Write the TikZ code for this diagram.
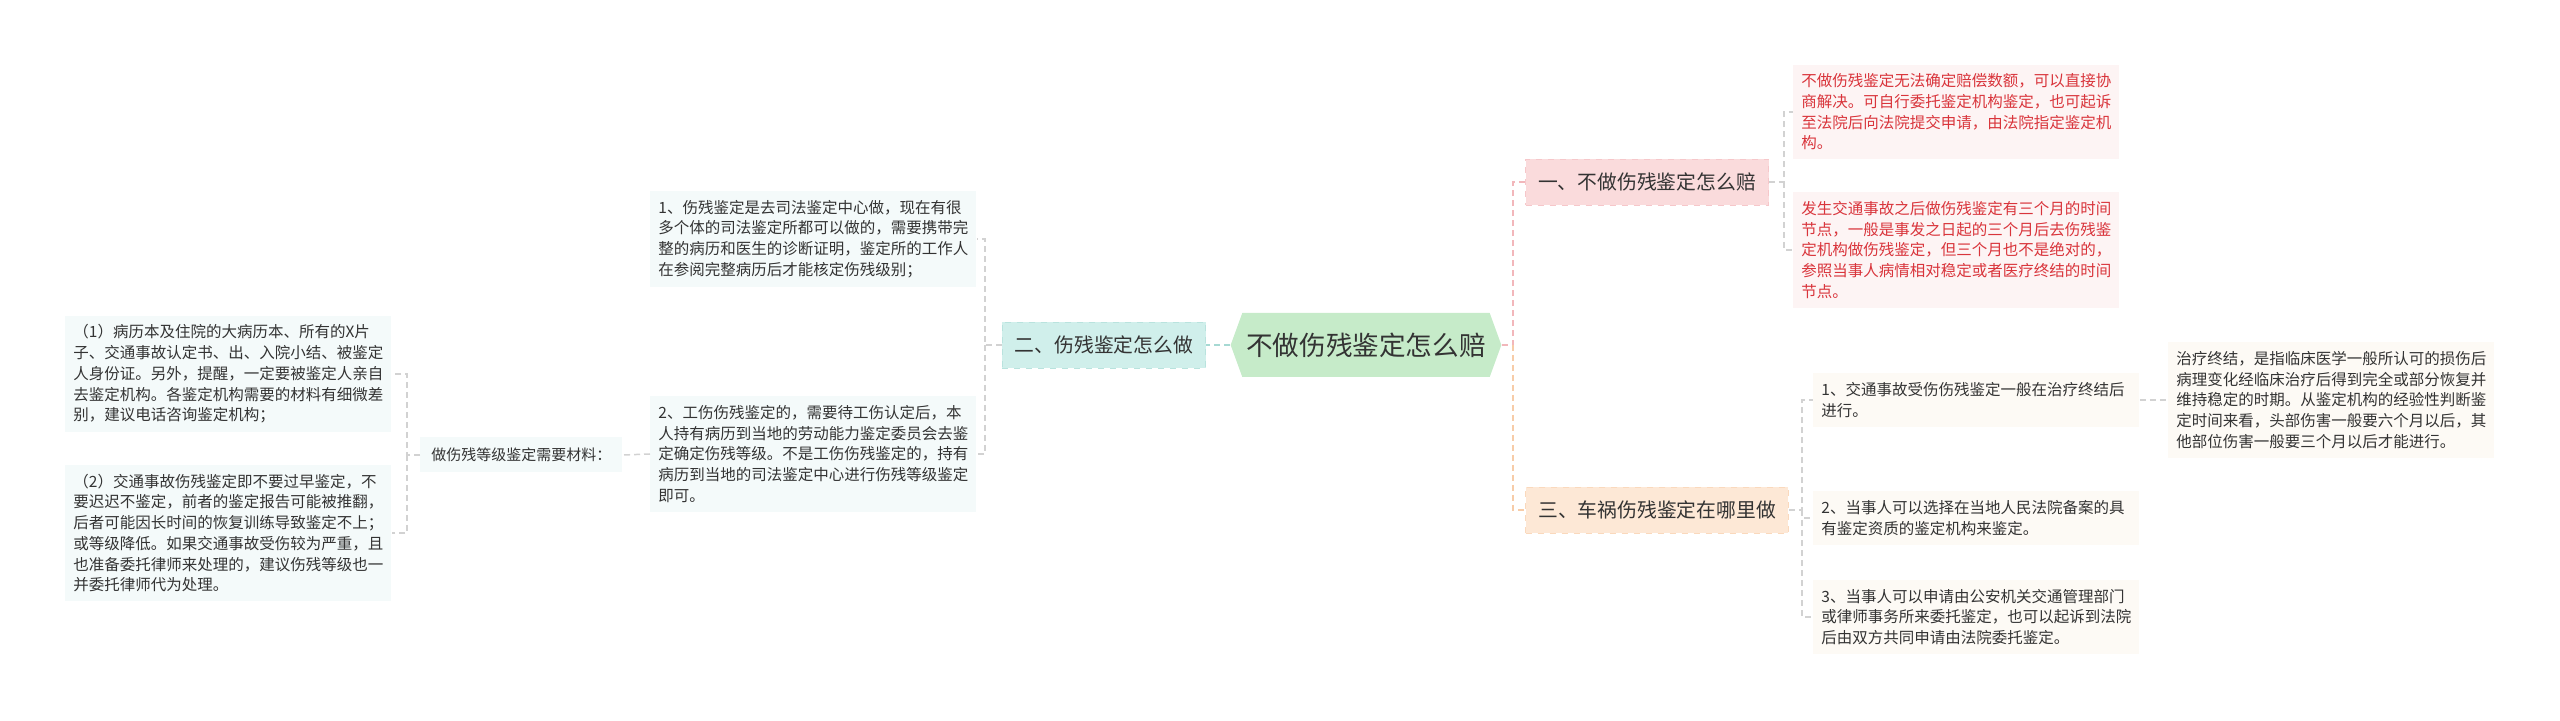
\documentclass[tikz,border=0pt]{standalone}
\usepackage{fontspec}
\newfontfamily\cjk{Noto Sans CJK SC}
\usetikzlibrary{shapes.symbols}

\definecolor{txtgray}{HTML}{333333}
\definecolor{txtred}{HTML}{D9343B}
\definecolor{rootfill}{HTML}{C6EBC9}
\definecolor{pinkfill}{HTML}{FADBDC}
\definecolor{pinkline}{HTML}{F2B7BB}
\definecolor{cyanfill}{HTML}{D0EFEB}
\definecolor{cyanline}{HTML}{A6D9D3}
\definecolor{peachfill}{HTML}{FDE8D6}
\definecolor{peachline}{HTML}{F7CCA8}
\definecolor{pinkleaf}{HTML}{FDF4F4}
\definecolor{cyanleaf}{HTML}{F4FAFA}
\definecolor{peachleaf}{HTML}{FDFAF5}
\definecolor{linkgray}{HTML}{D2D2D2}

\tikzset{
  leaf/.style={anchor=west, align=left, text width=155pt, inner xsep=4pt,
    inner ysep=4.5pt, text=txtgray, font=\cjk\fontsize{7.75}{10.35}\selectfont},
  branch/.style={draw, dashed, inner xsep=6.3pt, minimum height=23pt,
    text=txtgray, font=\cjk\fontsize{9.9}{12}\selectfont},
  link/.style={draw=linkgray, line width=0.75pt, dash pattern=on 3pt off 2pt},
}

\begin{document}
\begin{tikzpicture}[x=0.5pt, y=-0.5pt]
    \useasboundingbox (0,0) rectangle (2560,721);

    % centre
    \node[signal, signal to=west and east, signal pointer angle=140,
          fill=rootfill, minimum height=32pt, inner xsep=2pt, text=txtgray,
          font=\cjk\fontsize{13.3}{16}\selectfont] (root) at (1366,345) {不做伤残鉴定怎么赔};

    % branches
    \node[branch, fill=pinkfill, draw=pinkline!55!pinkfill] (b1) at (1647,182) {一、不做伤残鉴定怎么赔};
    \node[branch, fill=cyanfill, draw=cyanline!55!cyanfill] (b2) at (1104,345) {二、伤残鉴定怎么做};
    \node[branch, fill=peachfill, draw=peachline!55!peachfill] (b3) at (1657,510) {三、车祸伤残鉴定在哪里做};

    % leaves of b1
    \node[leaf, fill=pinkleaf, text=txtred] (l1a) at (1793,112) {不做伤残鉴定无法确定赔偿数额，可以直接协\\商解决。可自行委托鉴定机构鉴定，也可起诉\\至法院后向法院提交申请，由法院指定鉴定机\\构。};
    \node[leaf, fill=pinkleaf, text=txtred] (l1b) at (1793,250) {发生交通事故之后做伤残鉴定有三个月的时间\\节点，一般是事发之日起的三个月后去伤残鉴\\定机构做伤残鉴定，但三个月也不是绝对的，\\参照当事人病情相对稳定或者医疗终结的时间\\节点。};

    % leaves of b2
    \node[leaf, fill=cyanleaf] (l2a) at (650,239) {1、伤残鉴定是去司法鉴定中心做，现在有很\\多个体的司法鉴定所都可以做的，需要携带完\\整的病历和医生的诊断证明，鉴定所的工作人\\在参阅完整病历后才能核定伤残级别；};
    \node[leaf, fill=cyanleaf] (l2b) at (650,454) {2、工伤伤残鉴定的，需要待工伤认定后，本\\人持有病历到当地的劳动能力鉴定委员会去鉴\\定确定伤残等级。不是工伤伤残鉴定的，持有\\病历到当地的司法鉴定中心进行伤残等级鉴定\\即可。};
    \node[leaf, fill=cyanleaf, text width=, inner xsep=5.5pt, minimum height=17.5pt,
          font=\cjk\fontsize{7.5}{9}\selectfont] (mat) at (420,455) {做伤残等级鉴定需要材料：};
    \node[leaf, fill=cyanleaf] (l3a) at (65,374) {（1）病历本及住院的大病历本、所有的X片\\子、交通事故认定书、出、入院小结、被鉴定\\人身份证。另外，提醒，一定要被鉴定人亲自\\去鉴定机构。各鉴定机构需要的材料有细微差\\别，建议电话咨询鉴定机构；};
    \node[leaf, fill=cyanleaf] (l3b) at (65,533) {（2）交通事故伤残鉴定即不要过早鉴定，不\\要迟迟不鉴定，前者的鉴定报告可能被推翻，\\后者可能因长时间的恢复训练导致鉴定不上；\\或等级降低。如果交通事故受伤较为严重，且\\也准备委托律师来处理的，建议伤残等级也一\\并委托律师代为处理。};

    % leaves of b3
    \node[leaf, fill=peachleaf] (l4a) at (1813,400) {1、交通事故受伤伤残鉴定一般在治疗终结后\\进行。};
    \node[leaf, fill=peachleaf] (l4b) at (1813,518) {2、当事人可以选择在当地人民法院备案的具\\有鉴定资质的鉴定机构来鉴定。};
    \node[leaf, fill=peachleaf] (l4c) at (1813,617) {3、当事人可以申请由公安机关交通管理部门\\或律师事务所来委托鉴定，也可以起诉到法院\\后由双方共同申请由法院委托鉴定。};
    \node[leaf, fill=peachleaf] (l4d) at (2168,400) {治疗终结，是指临床医学一般所认可的损伤后\\病理变化经临床治疗后得到完全或部分恢复并\\维持稳定的时期。从鉴定机构的经验性判断鉴\\定时间来看，头部伤害一般要六个月以后，其\\他部位伤害一般要三个月以后才能进行。};

    % junctions
    \coordinate (jr) at (1513,345);
    \coordinate (j1) at (1784,182);
    \coordinate (j2) at (985,345);
    \coordinate (j3) at (407,455);
    \coordinate (j4) at (1802,510);

    % connectors
    \draw[link, draw=pinkline] (root.east) -- (jr) |- (b1.west);
    \draw[link, draw=peachline] (jr) |- (b3.west);
    \draw[link, draw=cyanline] (root.west) -- (b2.east);
    \draw[link] (b1.east) -- (j1) |- (l1a.west);
    \draw[link] (j1) |- (l1b.west);
    \draw[link] (b2.west) -- (j2) |- (l2a.east);
    \draw[link] (j2) |- (l2b.east);
    \draw[link] (l2b.west) -- (mat.east);
    \draw[link] (mat.west) -- (j3) |- (l3a.east);
    \draw[link] (j3) |- (l3b.east);
    \draw[link] (b3.east) -- (j4) |- (l4a.west);
    \draw[link] (j4) |- (l4b.west);
    \draw[link] (j4) |- (l4c.west);
    \draw[link] (l4a.east) -- (l4d.west);
\end{tikzpicture}
\end{document}
